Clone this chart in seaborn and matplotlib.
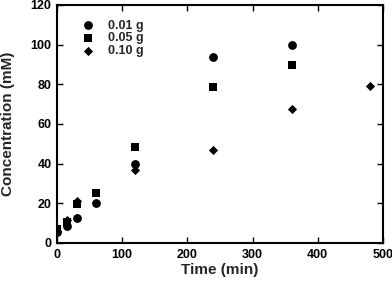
import matplotlib
matplotlib.use("Agg")
import matplotlib.pyplot as plt
import seaborn as sns
import pandas as pd

time_a = [0, 15, 30, 60, 120, 240, 360]
conc_001 = [5.7, 8.8, 12.5, 20.4, 39.8, 93.7, 99.8]
time_b = [0, 15, 30, 60, 120, 240, 360]
conc_005 = [6.9, 10.6, 19.6, 25.1, 48.3, 78.6, 89.5]
time_c = [0, 15, 30, 120, 240, 360, 480]
conc_010 = [6.2, 11.8, 21.3, 36.6, 46.8, 67.7, 79.0]
labels = ["0.01 g", "0.05 g", "0.10 g"]

df = pd.concat([
    pd.DataFrame({"Time": time_a, "Conc": conc_001, "Dose": labels[0]}),
    pd.DataFrame({"Time": time_b, "Conc": conc_005, "Dose": labels[1]}),
    pd.DataFrame({"Time": time_c, "Conc": conc_010, "Dose": labels[2]}),
])

sns.set_style("ticks")
plt.rcParams['font.family'] = ['Liberation Sans', 'DejaVu Sans']

fig = plt.figure(figsize=(3.92, 2.85), dpi=100)
ax = fig.add_axes([0.1454, 0.1474, 0.977 - 0.1454, 0.9825 - 0.1474])

markers = {labels[0]: "o", labels[1]: "s", labels[2]: "D"}
sizes = {labels[0]: 40, labels[1]: 36, labels[2]: 22}
for lab in labels:
    sub = df[df["Dose"] == lab]
    sns.scatterplot(data=sub, x="Time", y="Conc", marker=markers[lab], s=sizes[lab],
                    color="black", edgecolor="black", linewidth=0, ax=ax, label=lab)

ax.set_xlim(0, 500)
ax.set_ylim(0, 120)
ax.set_xticks([0, 100, 200, 300, 400, 500])
ax.set_yticks([0, 20, 40, 60, 80, 100, 120])
ax.tick_params(direction="in", top=True, right=True, length=4, width=1,
               labelsize=9, colors="black", pad=4)
for lbl in ax.get_xticklabels() + ax.get_yticklabels():
    lbl.set_fontweight("bold")
for sp in ax.spines.values():
    sp.set_linewidth(1.5)
    sp.set_color("black")
ax.set_xlabel("Time (min)", fontsize=11, fontweight="bold", labelpad=2)
ax.set_ylabel("Concentration (mM)", fontsize=11, fontweight="bold", labelpad=11)

leg = ax.legend(loc="upper left", bbox_to_anchor=(0.029, 0.975), frameon=False,
                handletextpad=0.6, labelspacing=0.05, borderaxespad=0.3,
                prop={"weight": "bold", "size": 9})

fig.savefig("out.png", dpi=100)
